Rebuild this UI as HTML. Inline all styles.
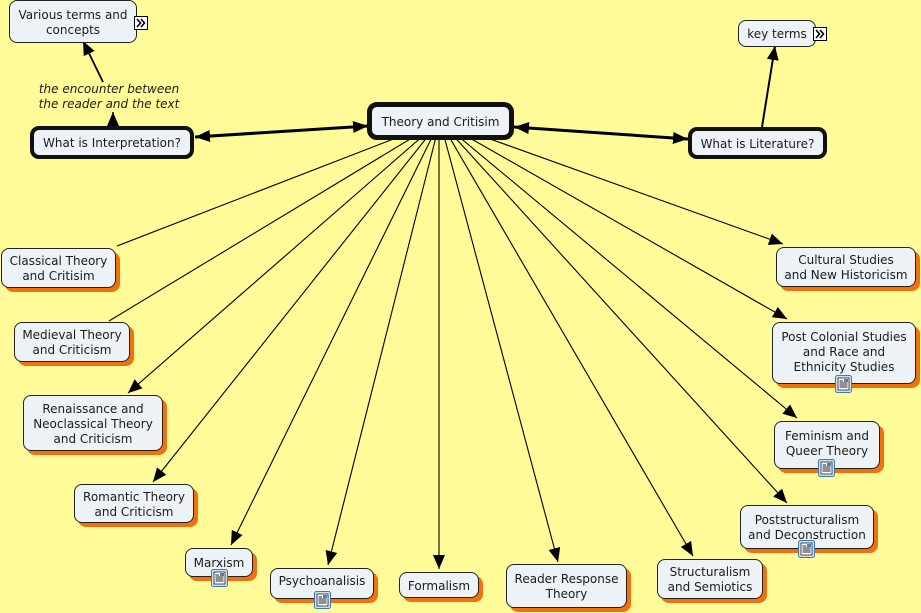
<!DOCTYPE html>
<html><head><meta charset="utf-8"><style>
html,body{margin:0;padding:0}
body{width:921px;height:613px;background:#fffb98;position:relative;overflow:hidden;font-family:"DejaVu Sans","Liberation Sans",sans-serif;font-size:12px;color:#1c1c1c}
.n{position:absolute;box-sizing:border-box;background:#ecf2f6;border:1px solid #222;border-radius:8px;display:flex;align-items:center;justify-content:center;text-align:center;line-height:15px;white-space:nowrap;padding-top:2px}
.s{box-shadow:4px 4px 0 #f2700e}
.t{border:4px solid #111;border-radius:9px}
.top{align-items:flex-start}
.ic{position:absolute}
.lab{position:absolute;font-style:italic;text-align:center;line-height:15px;white-space:nowrap}
svg{position:absolute;left:0;top:0}
</style></head><body>
<svg width="921" height="613" viewBox="0 0 921 613">
<defs>
<marker id="a" markerUnits="userSpaceOnUse" markerWidth="14" markerHeight="12" refX="14" refY="6" orient="auto"><path d="M0,0 L14,6 L0,12 z" fill="#000"/></marker>
<marker id="b" markerUnits="userSpaceOnUse" markerWidth="15" markerHeight="12" refX="15" refY="6" orient="auto-start-reverse"><path d="M0,0 L15,6 L0,12 z" fill="#000"/></marker>
</defs>
<g stroke="#000" stroke-width="1.1" fill="none">
<line x1="440" y1="121" x2="117" y2="246"/>
<line x1="440" y1="121" x2="109" y2="321"/>
<line x1="440" y1="121" x2="128" y2="393" marker-end="url(#a)"/>
<line x1="440" y1="121" x2="153" y2="482" marker-end="url(#a)"/>
<line x1="440" y1="121" x2="231" y2="545" marker-end="url(#a)"/>
<line x1="440" y1="121" x2="328" y2="565" marker-end="url(#a)"/>
<line x1="439" y1="121" x2="439" y2="569" marker-end="url(#a)"/>
<line x1="440" y1="121" x2="558" y2="562" marker-end="url(#a)"/>
<line x1="440" y1="121" x2="693" y2="556" marker-end="url(#a)"/>
<line x1="440" y1="121" x2="787" y2="503" marker-end="url(#a)"/>
<line x1="440" y1="121" x2="797" y2="418" marker-end="url(#a)"/>
<line x1="440" y1="121" x2="787" y2="319" marker-end="url(#a)"/>
<line x1="440" y1="121" x2="783" y2="244" marker-end="url(#a)"/>
<line x1="113" y1="125" x2="113" y2="112" stroke-width="1.5" marker-end="url(#a)"/>
<line x1="103" y1="82" x2="83" y2="41" stroke-width="1.8" marker-end="url(#a)"/>
<line x1="762" y1="127" x2="775" y2="46" stroke-width="2" marker-end="url(#a)"/>
</g>
<g stroke="#000" stroke-width="3" fill="none">
<line x1="195" y1="137" x2="368" y2="126" marker-start="url(#b)" marker-end="url(#b)"/>
<line x1="514" y1="127" x2="688" y2="139" marker-start="url(#b)" marker-end="url(#b)"/>
</g>
</svg>

<div class="n" style="left:9px;top:0px;width:128px;height:43px">Various terms and<br>concepts</div>
<svg class="ic" style="left:134px;top:16px" width="14" height="14" viewBox="0 0 14 14"><rect x="0.5" y="0.5" width="13" height="13" fill="#fff" stroke="#000"/><path d="M3,3 L6.5,7 L3,11 M7,3 L10.5,7 L7,11" stroke="#000" stroke-width="1.6" fill="none"/></svg>

<div class="lab" style="left:19px;top:82px;width:180px">the encounter between<br>the reader and the text</div>

<div class="n t" style="left:30px;top:126px;width:164px;height:33px">What is Interpretation?</div>
<div class="n t" style="left:367px;top:102px;width:147px;height:38px;border-width:5px;border-radius:10px">Theory and Critisim</div>
<div class="n t" style="left:688px;top:127px;width:139px;height:32px">What is Literature?</div>

<div class="n" style="left:738px;top:20px;width:78px;height:27px">key terms</div>
<svg class="ic" style="left:813px;top:27px" width="14" height="14" viewBox="0 0 14 14"><rect x="0.5" y="0.5" width="13" height="13" fill="#fff" stroke="#000"/><path d="M3,3 L6.5,7 L3,11 M7,3 L10.5,7 L7,11" stroke="#000" stroke-width="1.6" fill="none"/></svg>

<div class="n s" style="left:1px;top:248px;width:115px;height:40px">Classical Theory<br>and Critisim</div>
<div class="n s" style="left:14px;top:322px;width:116px;height:40px">Medieval Theory<br>and Criticism</div>
<div class="n s" style="left:23px;top:395px;width:140px;height:56px">Renaissance and<br>Neoclassical Theory<br>and Criticism</div>
<div class="n s" style="left:74px;top:484px;width:120px;height:39px">Romantic Theory<br>and Criticism</div>
<div class="n s top" style="left:185px;top:548px;width:68px;height:29px;padding-top:7px">Marxism</div>
<div class="n s top" style="left:270px;top:568px;width:104px;height:31px;padding-top:5px">Psychoanalisis</div>
<div class="n s" style="left:399px;top:572px;width:80px;height:26px">Formalism</div>
<div class="n s" style="left:506px;top:564px;width:121px;height:44px">Reader Response<br>Theory</div>
<div class="n s" style="left:657px;top:559px;width:106px;height:40px">Structuralism<br>and Semiotics</div>
<div class="n s top" style="left:740px;top:505px;width:134px;height:44px;padding-top:7px">Poststructuralism<br>and Deconstruction</div>
<div class="n s top" style="left:774px;top:421px;width:106px;height:48px;padding-top:7px">Feminism and<br>Queer Theory</div>
<div class="n s top" style="left:772px;top:322px;width:144px;height:62px;padding-top:7px">Post Colonial Studies<br>and Race and<br>Ethnicity Studies</div>
<div class="n s" style="left:776px;top:247px;width:140px;height:40px">Cultural Studies<br>and New Historicism</div>

<svg class="ic" style="left:211px;top:569px" width="17" height="18" viewBox="0 0 17 18"><rect x="0.5" y="0.5" width="16" height="17" rx="2" fill="#cfe0f2" stroke="#3d78b8"/><rect x="3" y="3" width="11" height="12" fill="#fff" stroke="#222" stroke-width="0.8"/><path d="M4.5,6 H8 M4.5,8 H12.5 M4.5,10 H12.5 M4.5,12 H12.5" stroke="#222" stroke-width="0.9"/><rect x="9" y="4" width="4" height="3" fill="#4a7fc0"/></svg>
<svg class="ic" style="left:314px;top:591px" width="17" height="18" viewBox="0 0 17 18"><rect x="0.5" y="0.5" width="16" height="17" rx="2" fill="#cfe0f2" stroke="#3d78b8"/><rect x="3" y="3" width="11" height="12" fill="#fff" stroke="#222" stroke-width="0.8"/><path d="M4.5,6 H8 M4.5,8 H12.5 M4.5,10 H12.5 M4.5,12 H12.5" stroke="#222" stroke-width="0.9"/><rect x="9" y="4" width="4" height="3" fill="#4a7fc0"/></svg>
<svg class="ic" style="left:798px;top:540px" width="17" height="18" viewBox="0 0 17 18"><rect x="0.5" y="0.5" width="16" height="17" rx="2" fill="#cfe0f2" stroke="#3d78b8"/><rect x="3" y="3" width="11" height="12" fill="#fff" stroke="#222" stroke-width="0.8"/><path d="M4.5,6 H8 M4.5,8 H12.5 M4.5,10 H12.5 M4.5,12 H12.5" stroke="#222" stroke-width="0.9"/><rect x="9" y="4" width="4" height="3" fill="#4a7fc0"/></svg>
<svg class="ic" style="left:818px;top:459px" width="17" height="18" viewBox="0 0 17 18"><rect x="0.5" y="0.5" width="16" height="17" rx="2" fill="#cfe0f2" stroke="#3d78b8"/><rect x="3" y="3" width="11" height="12" fill="#fff" stroke="#222" stroke-width="0.8"/><path d="M4.5,6 H8 M4.5,8 H12.5 M4.5,10 H12.5 M4.5,12 H12.5" stroke="#222" stroke-width="0.9"/><rect x="9" y="4" width="4" height="3" fill="#4a7fc0"/></svg>
<svg class="ic" style="left:835px;top:375px" width="17" height="18" viewBox="0 0 17 18"><rect x="0.5" y="0.5" width="16" height="17" rx="2" fill="#cfe0f2" stroke="#3d78b8"/><rect x="3" y="3" width="11" height="12" fill="#fff" stroke="#222" stroke-width="0.8"/><path d="M4.5,6 H8 M4.5,8 H12.5 M4.5,10 H12.5 M4.5,12 H12.5" stroke="#222" stroke-width="0.9"/><rect x="9" y="4" width="4" height="3" fill="#4a7fc0"/></svg>
</body></html>
